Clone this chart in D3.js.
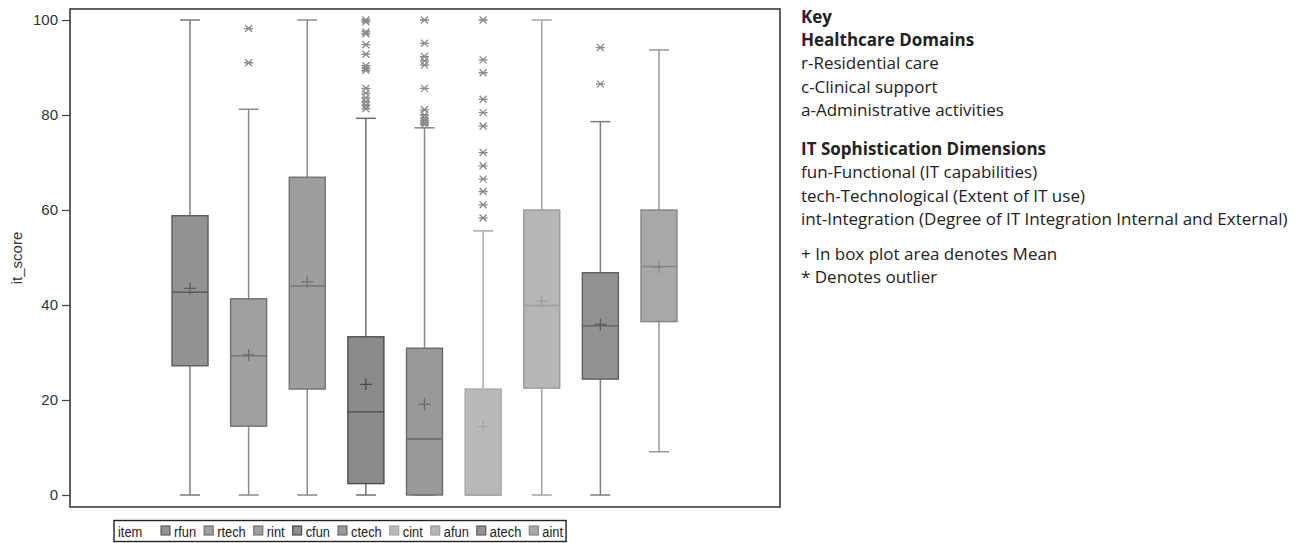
<!DOCTYPE html>
<html>
<head>
<meta charset="utf-8">
<script src="https://cdn.jsdelivr.net/npm/d3@7"></script>
<style>
  html, body { margin: 0; padding: 0; background: #fff; }
  svg { display: block; }
</style>
</head>
<body>
<svg id="chart" width="1298" height="543"></svg>
<script>
// IT sophistication scores by healthcare domain and dimension
const items      = ["rfun", "rtech", "rint", "cfun", "ctech", "cint", "afun", "atech", "aint"];
const whiskerLow = [0,    0,    0,    0,    0,    0,    0,    0,    9.1];
const q1         = [27.2, 14.5, 22.3, 2.4,  0,    0,    22.5, 24.4, 36.5];
const median     = [42.7, 29.3, 44.0, 17.5, 11.8, 0,    39.9, 35.6, 48.1];
const q3         = [58.8, 41.3, 66.9, 33.3, 30.9, 22.3, 60.0, 46.8, 60.0];
const whiskerHigh= [100,  81.2, 100,  79.3, 77.3, 55.6, 100,  78.6, 93.7];
const means      = [43.5, 29.5, 44.9, 23.3, 19.1, 14.4, 40.8, 35.9, 48.0];
const outliers   = [
  [],
  [98.2, 91.0],
  [],
  [100, 99.6, 97.5, 97.1, 94.8, 92.8, 90.4, 89.8, 89.4, 85.6, 84.6, 83.6, 82.8, 82.0, 81.3],
  [100, 95.1, 92.3, 91.4, 90.5, 85.6, 81.1, 80.0, 79.4, 78.9, 78.4, 78.0],
  [100, 91.6, 88.9, 83.3, 80.5, 77.7, 72.1, 69.3, 66.5, 63.9, 61.1, 58.3],
  [],
  [94.2, 86.5],
  []
];
const yTicks = [0, 20, 40, 60, 80, 100];

// Gray shades per item: box fill, box outline, whisker/marker stroke
const fills   = ["#939393", "#a0a0a0", "#9e9e9e", "#8b8b8b", "#999999", "#b9b9b9", "#b6b6b6", "#929292", "#a8a8a8"];
const borders = ["#5c5c5c", "#6f6f6f", "#747474", "#4c4c4c", "#6a6a6a", "#a6a6a6", "#9c9c9c", "#5e5e5e", "#858585"];
const strokes = ["#7a7a7a", "#8a8a8a", "#8a8a8a", "#6e6e6e", "#888888", "#a8a8a8", "#a2a2a2", "#7c7c7c", "#999999"];

const keyLines = [
  { text: "Key", bold: true, y: 17 },
  { text: "Healthcare Domains", bold: true, y: 40 },
  { text: "r-Residential care", y: 63.5 },
  { text: "c-Clinical support", y: 87 },
  { text: "a-Administrative activities", y: 110 },
  { text: "IT Sophistication Dimensions", bold: true, y: 149 },
  { text: "fun-Functional (IT capabilities)", y: 172.5 },
  { text: "tech-Technological (Extent of IT use)", y: 196 },
  { text: "int-Integration (Degree of IT Integration Internal and External)", y: 219 },
  { text: "+ In box plot area denotes Mean", y: 254 },
  { text: "* Denotes outlier", y: 277.5 }
];

const svg = d3.select("#chart");
const frame = { left: 70, top: 9, right: 780, bottom: 507 };

const x = d3.scalePoint().domain(items).range([190, 659]);
const y = d3.scaleLinear().domain([0, 100]).range([495, 20]);
const boxW = 36, capW = 20;

// plot frame
svg.append("rect")
  .attr("x", frame.left).attr("y", frame.top)
  .attr("width", frame.right - frame.left).attr("height", frame.bottom - frame.top)
  .attr("fill", "none").attr("stroke", "#3a3a3a").attr("stroke-width", 1.6);

// y axis
const yAxis = svg.append("g")
  .attr("transform", `translate(${frame.left},0)`)
  .call(d3.axisLeft(y).tickValues(yTicks).tickSize(8).tickPadding(4));
yAxis.select(".domain").remove();
yAxis.selectAll("line").attr("stroke", "#444").attr("stroke-width", 1.2);
yAxis.selectAll("text")
  .attr("font-family", "Liberation Sans, Arial, sans-serif")
  .attr("font-size", 15).attr("fill", "#333");

svg.append("text")
  .attr("transform", `translate(22,${(frame.top + frame.bottom) / 2}) rotate(-90)`)
  .attr("text-anchor", "middle")
  .attr("font-family", "Liberation Sans, Arial, sans-serif")
  .attr("font-size", 15).attr("fill", "#333")
  .text("it_score");

// boxes
const g = svg.append("g");
items.forEach((name, i) => {
  const cx = x(name);
  const box = g.append("g");
  // whiskers
  box.append("line").attr("x1", cx).attr("x2", cx)
    .attr("y1", y(q3[i])).attr("y2", y(whiskerHigh[i]))
    .attr("stroke", strokes[i]).attr("stroke-width", 1.5);
  box.append("line").attr("x1", cx).attr("x2", cx)
    .attr("y1", y(q1[i])).attr("y2", y(whiskerLow[i]))
    .attr("stroke", strokes[i]).attr("stroke-width", 1.5);
  [whiskerLow[i], whiskerHigh[i]].forEach(v => {
    box.append("line").attr("x1", cx - capW / 2).attr("x2", cx + capW / 2)
      .attr("y1", y(v)).attr("y2", y(v))
      .attr("stroke", strokes[i]).attr("stroke-width", 1.5);
  });
  // interquartile box
  box.append("rect")
    .attr("x", cx - boxW / 2).attr("y", y(q3[i]))
    .attr("width", boxW).attr("height", y(q1[i]) - y(q3[i]))
    .attr("fill", fills[i]).attr("stroke", borders[i]).attr("stroke-width", 1.4);
  // median
  box.append("line").attr("x1", cx - boxW / 2).attr("x2", cx + boxW / 2)
    .attr("y1", y(median[i])).attr("y2", y(median[i]))
    .attr("stroke", borders[i]).attr("stroke-width", 1.4);
  // mean marker
  const my = y(means[i]);
  box.append("path")
    .attr("d", `M${cx - 6},${my}H${cx + 6}M${cx},${my - 6}V${my + 6}`)
    .attr("stroke", borders[i]).attr("stroke-width", 1.3).attr("fill", "none");
  // outliers
  outliers[i].forEach(v => {
    const oy = y(v);
    box.append("path")
      .attr("d", `M${cx - 4.5},${oy}H${cx + 4.5}M${cx - 3.5},${oy - 3.5}L${cx + 3.5},${oy + 3.5}M${cx - 3.5},${oy + 3.5}L${cx + 3.5},${oy - 3.5}`)
      .attr("stroke", "#8a8a8a").attr("stroke-width", 1.3).attr("fill", "none");
  });
});

// legend (slightly condensed labels)
const leg = svg.append("g");
const legFont = "Liberation Sans, Arial, sans-serif";
const squeeze = 0.92;
const legY = 537;
function legText(px, str) {
  const t = leg.append("text")
    .attr("transform", `translate(${px},${legY}) scale(${squeeze},1)`)
    .attr("font-family", legFont).attr("font-size", 14).attr("fill", "#222").text(str);
  return t.node().getComputedTextLength() * squeeze;
}
legText(118, "item");
let lx = 161;
items.forEach((name, i) => {
  leg.append("rect").attr("x", lx).attr("y", legY - 11).attr("width", 9).attr("height", 9)
    .attr("fill", fills[i]).attr("stroke", borders[i]).attr("stroke-width", 1.2);
  const w = legText(lx + 13, name);
  lx += 13 + w + 8;
});
leg.insert("rect", ":first-child")
  .attr("x", 114).attr("y", 520.5).attr("width", lx - 114 - 5).attr("height", 21)
  .attr("fill", "#fff").attr("stroke", "#222").attr("stroke-width", 1.4);

// key text on the right
const key = svg.append("g");
keyLines.forEach(d => {
  key.append("text")
    .attr("x", 801).attr("y", d.y).attr("dy", "0.35em")
    .attr("font-family", "Open Sans, Lato, sans-serif")
    .attr("font-size", 17)
    .attr("font-weight", d.bold ? "bold" : "normal")
    .attr("fill", "#222")
    .text(d.text);
});
</script>
</body>
</html>
